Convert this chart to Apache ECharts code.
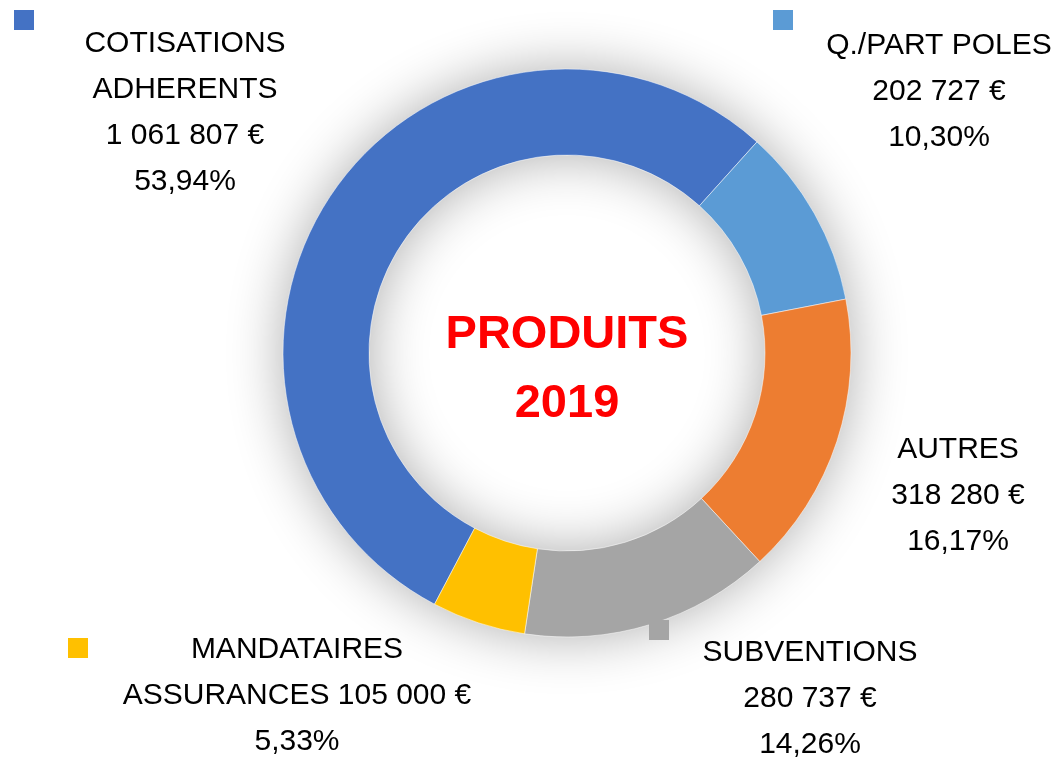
<!DOCTYPE html>
<html>
<head>
<meta charset="utf-8">
<script src="https://cdn.jsdelivr.net/npm/echarts@6/dist/echarts.min.js"></script>
<style>
  html, body { margin: 0; padding: 0; background: #fff; }
  #main { width: 1061px; height: 761px; }
</style>
</head>
<body>
<div id="main"></div>
<script>
// data
var categories = ['COTISATIONS\nADHERENTS', 'Q./PART POLES', 'AUTRES', 'SUBVENTIONS', 'MANDATAIRES\nASSURANCES'];
var amounts = [1061807, 202727, 318280, 280737, 105000];
var colors = ['#4472C4', '#5B9BD5', '#ED7D31', '#A5A5A5', '#FFC000'];
var centerTitle = 'PRODUITS\n2019';

// where each label block sits (centre of text block) and the legend key squares
var labelPos = [[185, 113], [939, 92], [958, 496], [810, 699], [297, 696]];
var valueSep = ['\n', '\n', '\n', '\n', ' '];
var keyPos = [[14, 10], [773, 10], null, [649, 620], [68, 638]];

function euros(v) {
  var s = String(v);
  var out = '';
  while (s.length > 3) {
    out = ' ' + s.slice(-3) + out;
    s = s.slice(0, -3);
  }
  return s + out + ' €';
}

var chart = echarts.init(document.getElementById('main'));

var pieData = [];
for (var i = 0; i < categories.length; i++) {
  pieData.push({ name: categories[i], value: amounts[i], itemStyle: { color: colors[i] } });
}

var keys = [];
for (var k = 0; k < keyPos.length; k++) {
  if (!keyPos[k]) continue;
  keys.push({
    type: 'rect',
    x: keyPos[k][0], y: keyPos[k][1],
    shape: { width: 20, height: 20 },
    style: { fill: colors[k] },
    z: 100
  });
}

var option = {
  backgroundColor: '#fff',
  animation: false,
  series: [{
    // soft glow under the ring
    type: 'pie',
    silent: true,
    z: 1,
    center: [567, 353],
    radius: [198, 284],
    data: [{ value: 1, itemStyle: { color: '#ddd' } }],
    itemStyle: {
      shadowBlur: 55,
      shadowColor: 'rgba(0,0,0,0.32)'
    },
    label: { show: false },
    labelLine: { show: false }
  }, {
    type: 'pie',
    z: 2,
    center: [567, 353],
    radius: [198, 284],
    startAngle: 242.2,
    clockwise: true,
    data: pieData,
    itemStyle: {
      borderColor: '#fff',
      borderWidth: 0.5
    },
    emphasis: { disabled: true },
    labelLine: { show: false },
    label: {
      show: true,
      position: 'outside',
      overflow: 'none',
      width: 400,
      fontFamily: '"Liberation Sans", Arial, sans-serif',
      fontSize: 30,
      lineHeight: 46,
      color: '#000',
      align: 'center',
      formatter: function (p) {
        var pct = p.percent.toFixed(2).replace('.', ',') + '%';
        return p.name + valueSep[p.dataIndex] + euros(p.value) + '\n' + pct;
      }
    },
    labelLayout: function (params) {
      var pos = labelPos[params.dataIndex];
      return { x: pos[0], y: pos[1], align: 'center', verticalAlign: 'middle', hideOverlap: false };
    }
  }],
  graphic: keys.concat([{
    type: 'text',
    x: 567, y: 370,
    style: {
      text: centerTitle,
      fill: '#FF0000',
      font: 'bold 47px "Liberation Sans", Arial, sans-serif',
      align: 'center',
      verticalAlign: 'middle',
      lineHeight: 69
    }
  }])
};

chart.setOption(option);
</script>
</body>
</html>
